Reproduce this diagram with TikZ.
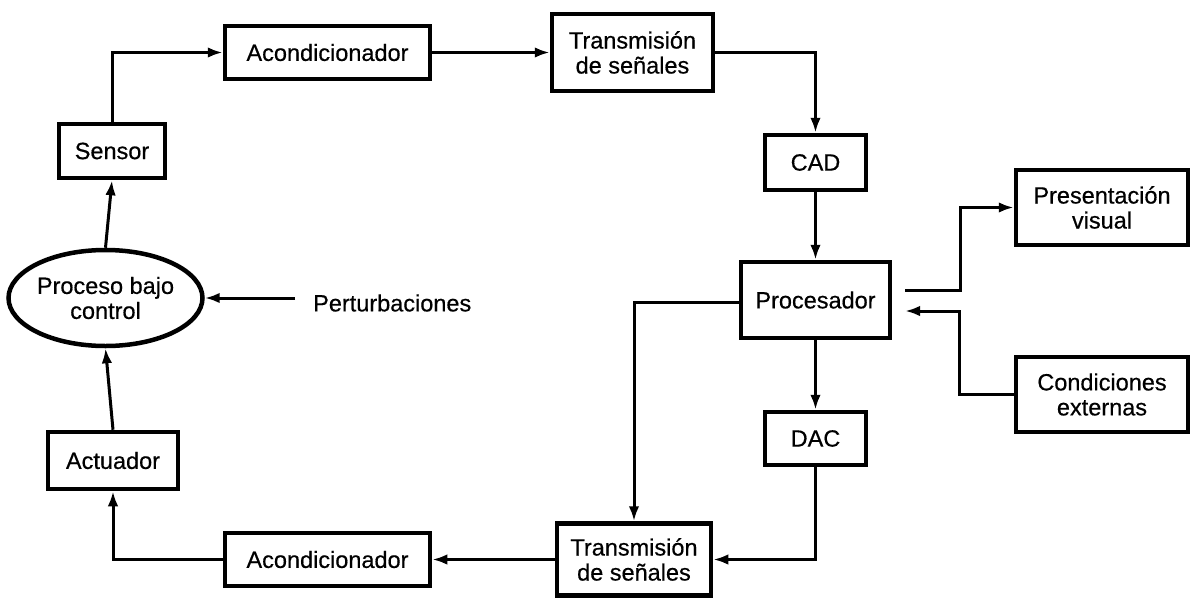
\documentclass[tikz,border=0pt]{standalone}
\usepackage{fontspec}
\setmainfont{Liberation Sans}
\newfontfamily\diagfont{Liberation Sans}[FakeBold=0.5]
\usetikzlibrary{arrows.meta,shapes.geometric}
\begin{document}
\begin{tikzpicture}[x=1pt,y=-1pt,
  txt/.style={font=\diagfont\fontsize{23.5}{25}\selectfont,align=center,inner sep=0pt},
  blk/.style={txt,draw,line width=4.5pt},
  conn/.style={line width=3pt},
  arr/.style={conn,-{Latex[length=15pt,width=10.5pt]}},
]
\useasboundingbox (0,0) rectangle (1192,598);

% nodes
\node[blk,minimum width=106pt,minimum height=54pt] (sensor) at (112,151) {Sensor};
\node[blk,minimum width=205pt,minimum height=53pt] (acondA) at (327.5,52.5) {Acondicionador};
\node[blk,minimum width=161pt,minimum height=77pt] (transA) at (632.5,52.5) {Transmisión\\de señales};
\node[blk,minimum width=101pt,minimum height=55pt] (cad) at (815.5,162.5) {CAD};
\node[blk,minimum width=149pt,minimum height=76pt] (proc) at (815.5,300) {Procesador};
\node[blk,minimum width=172pt,minimum height=75pt] (pres) at (1102,207.5) {Presentación\\visual};
\node[blk,minimum width=172pt,minimum height=75pt] (cond) at (1102,394.5) {Condiciones\\externas};
\node[blk,minimum width=101pt,minimum height=53pt] (dac) at (815.5,438.5) {DAC};
\node[blk,minimum width=154pt,minimum height=72pt] (transB) at (634,559.5) {Transmisión\\de señales};
\node[blk,minimum width=205pt,minimum height=53pt] (acondB) at (327.5,559.5) {Acondicionador};
\node[blk,minimum width=130pt,minimum height=57pt] (act) at (113,460.5) {Actuador};
\node[blk,ellipse,inner sep=0pt,minimum width=191pt,minimum height=96pt] (ell) at (105.5,298) {Proceso bajo\\control};
\node[txt,anchor=west] (pert) at (313,303) {Perturbaciones};

\coordinate (pout) at (905,290);
\coordinate (pin) at (905,311);
\coordinate (pstart) at (295,298);

% connectors
\draw[arr] (ell.north) -- (sensor.south);
\draw[arr] (sensor.north) |- (acondA.west);
\draw[arr] (acondA.east) -- (transA.west);
\draw[arr] (transA.east) -| (cad.north);
\draw[arr] (cad.south) -- (proc.north);
\draw[arr] (pout) -- ++(55,0) |- (pres.west);
\draw[arr] (cond.west) -- ++(-54,0) |- (pin);
\draw[arr] ([yshift=-2pt]proc.west) -| (transB.north);
\draw[arr] (proc.south) -- (dac.north);
\draw[arr] (dac.south) |- (transB.east);
\draw[arr] (transB.west) -- (acondB.east);
\draw[arr] (acondB.west) -| (act.south);
\draw[arr] (act.north) -- (ell.south);
\draw[arr] (pstart) -- (ell.east);
\end{tikzpicture}
\end{document}
